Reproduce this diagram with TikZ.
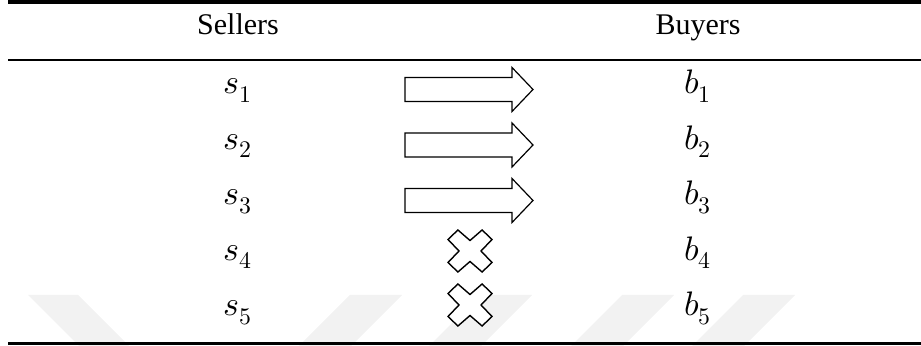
\documentclass[tikz,border=0pt]{standalone}
\usepackage{fontspec}
\usepackage{unicode-math}
\setmainfont{Liberation Serif}
\setmathfont{Latin Modern Math}
\begin{document}
\begin{tikzpicture}[x=0.5pt,y=-0.5pt,font=\fontsize{15}{18}\selectfont]
  \useasboundingbox (0,0) rectangle (921,346);
  % faint watermark bands
  \fill[black!5] (28,295) -- (78,295) -- (129,346) -- (79,346) -- cycle;
  \foreach \x in {350,480,622,743}
    \fill[black!5] (\x,295) -- (\x+52,295) -- (\x+1,346) -- (\x-51,346) -- cycle;
  % rules
  \draw[line width=2pt] (8,2) -- (921,2);
  \draw[line width=1.2pt] (8,60) -- (921,60);
  \draw[line width=1.7pt] (8,343.5) -- (921,343.5);
  % header
  \node[anchor=base,inner sep=0pt] (sellers) at (238,35) {Sellers};
  \node[anchor=base,inner sep=0pt] (buyers) at (698,35) {Buyers};
  % sellers and buyers
  \foreach \i/\y in {1/94,2/149.5,3/205,4/260.5,5/316} {
    \node[anchor=base,inner sep=0pt,font=\fontsize{17}{20}\selectfont] (s\i) at (238,\y) {$s_{\i}$};
    \node[anchor=base,inner sep=0pt,font=\fontsize{17}{20}\selectfont] (b\i) at (698,\y) {$b_{\i}$};
  }
  % matched pairs
  \foreach \y in {89.5,145,200.5}
    \draw[line width=0.6pt,fill=white] (405,\y-12) -- (512,\y-12) -- (512,\y-22) -- (533,\y)
      -- (512,\y+22) -- (512,\y+12) -- (405,\y+12) -- cycle;
  % no match
  \foreach \y in {251,305}
    \draw[line width=0.7pt,fill=white,shift={(470,\y)}] (0,-10.5) -- (12.1,-21) -- (22,-11.5) -- (11,0)
      -- (22,11.5) -- (12.1,21) -- (0,10.5) -- (-12.1,21) -- (-22,11.5) -- (-11,0)
      -- (-22,-11.5) -- (-12.1,-21) -- cycle;
\end{tikzpicture}
\end{document}
